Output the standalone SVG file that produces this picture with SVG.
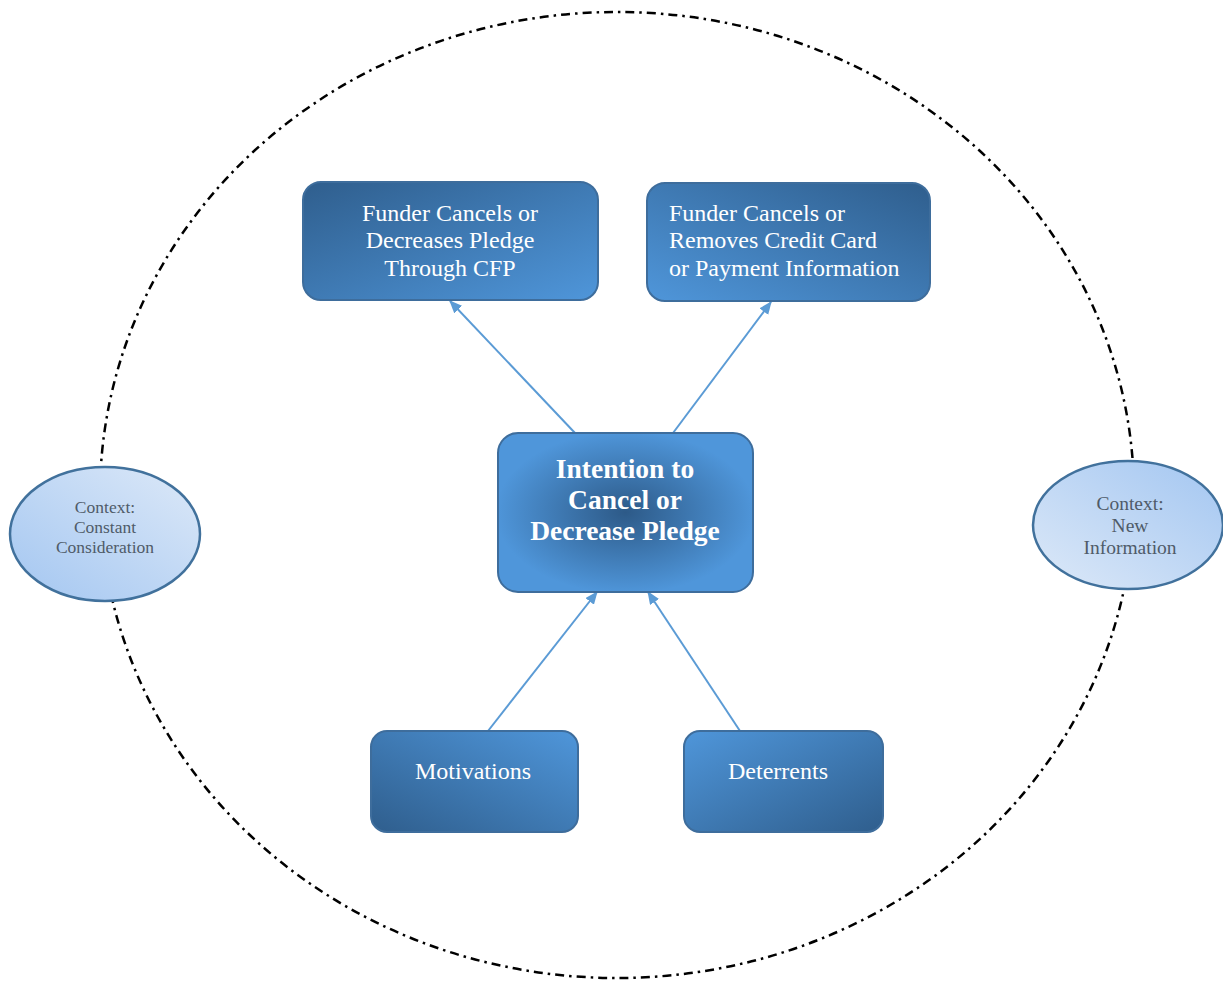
<svg xmlns="http://www.w3.org/2000/svg" width="1223" height="982" viewBox="0 0 1223 982">
<defs>
<style>
.box{stroke:#3e6d9c;stroke-width:2}
.t{font-family:"Liberation Serif","Times New Roman",serif;fill:#ffffff;font-size:24px}
.tb{font-family:"Liberation Serif","Times New Roman",serif;fill:#ffffff;font-size:27.5px;font-weight:bold}
.te{font-family:"Liberation Serif","Times New Roman",serif;fill:#4f5b69;font-size:17.5px}
.te2{font-family:"Liberation Serif","Times New Roman",serif;fill:#4f5b69;font-size:19.5px}
.ell{stroke:#41719c;stroke-width:2.5}
.conn{stroke:#5b9bd5;stroke-width:2;fill:none;marker-end:url(#ah)}
</style>
<marker id="ah" viewBox="0 0 12 10" refX="11" refY="5" markerWidth="13" markerHeight="11" markerUnits="userSpaceOnUse" orient="auto">
<path d="M0,0 L12,5 L0,10 Z" fill="#5b9bd5"/>
</marker>
<linearGradient id="gTL" x1="0" y1="0" x2="1" y2="1"><stop offset="0" stop-color="#2f5e8d"/><stop offset="1" stop-color="#4f96da"/></linearGradient>
<linearGradient id="gTR" x1="1" y1="0" x2="0" y2="1"><stop offset="0" stop-color="#2f5e8d"/><stop offset="1" stop-color="#4f96da"/></linearGradient>
<linearGradient id="gBL" x1="0" y1="1" x2="1" y2="0"><stop offset="0" stop-color="#2f5e8d"/><stop offset="1" stop-color="#4f96da"/></linearGradient>
<linearGradient id="gBR" x1="1" y1="1" x2="0" y2="0"><stop offset="0" stop-color="#2f5e8d"/><stop offset="1" stop-color="#4f96da"/></linearGradient>
<radialGradient id="gC" cx="0.5" cy="0.5" r="0.6"><stop offset="0" stop-color="#2d5a88"/><stop offset="0.85" stop-color="#4f96da"/></radialGradient>
<linearGradient id="eL" x1="0" y1="1" x2="1" y2="0"><stop offset="0" stop-color="#a3c6f1"/><stop offset="1" stop-color="#dde9f8"/></linearGradient>
<linearGradient id="eR" x1="1" y1="0" x2="0" y2="1"><stop offset="0" stop-color="#a3c6f1"/><stop offset="1" stop-color="#dde9f8"/></linearGradient>
</defs>
<rect width="1223" height="982" fill="#ffffff"/>
<g id="boundary">
<ellipse cx="617" cy="495" rx="517" ry="483" fill="none" stroke="#000000" stroke-width="2.5" stroke-dasharray="9 5 2.5 5"/>
</g>
<g id="connectors">
<line class="conn" x1="575" y1="433" x2="450" y2="301"/>
<line class="conn" x1="673" y1="433" x2="771" y2="302"/>
<line class="conn" x1="488" y1="731" x2="597" y2="592"/>
<line class="conn" x1="740" y1="731" x2="648" y2="592"/>
</g>
<g id="node-cfp">
<rect class="box" x="303" y="182" width="295" height="118" rx="18" fill="url(#gTL)"/>
<text class="t" x="450" y="221" text-anchor="middle">Funder Cancels or</text>
<text class="t" x="450" y="248" text-anchor="middle">Decreases Pledge</text>
<text class="t" x="450" y="276" text-anchor="middle">Through CFP</text>
</g>
<g id="node-card">
<rect class="box" x="647" y="183" width="283" height="118" rx="18" fill="url(#gTR)"/>
<text class="t" x="669" y="221">Funder Cancels or</text>
<text class="t" x="669" y="248">Removes Credit Card</text>
<text class="t" x="669" y="276">or Payment Information</text>
</g>
<g id="node-intention">
<rect class="box" x="498" y="433" width="255" height="159" rx="20" fill="url(#gC)"/>
<text class="tb" x="625" y="478" text-anchor="middle">Intention to</text>
<text class="tb" x="625" y="509" text-anchor="middle">Cancel or</text>
<text class="tb" x="625" y="540" text-anchor="middle">Decrease Pledge</text>
</g>
<g id="node-motivations">
<rect class="box" x="371" y="731" width="207" height="101" rx="16" fill="url(#gBL)"/>
<text class="t" x="473" y="779" text-anchor="middle">Motivations</text>
</g>
<g id="node-deterrents">
<rect class="box" x="684" y="731" width="199" height="101" rx="16" fill="url(#gBR)"/>
<text class="t" x="778" y="779" text-anchor="middle">Deterrents</text>
</g>
<g id="node-context-constant">
<ellipse class="ell" cx="105" cy="534" rx="95" ry="67" fill="url(#eL)"/>
<text class="te" x="105" y="513" text-anchor="middle">Context:</text>
<text class="te" x="105" y="533" text-anchor="middle">Constant</text>
<text class="te" x="105" y="553" text-anchor="middle">Consideration</text>
</g>
<g id="node-context-new">
<ellipse class="ell" cx="1128" cy="525" rx="95" ry="64" fill="url(#eR)"/>
<text class="te2" x="1130" y="510" text-anchor="middle">Context:</text>
<text class="te2" x="1130" y="532" text-anchor="middle">New</text>
<text class="te2" x="1130" y="554" text-anchor="middle">Information</text>
</g>
</svg>
